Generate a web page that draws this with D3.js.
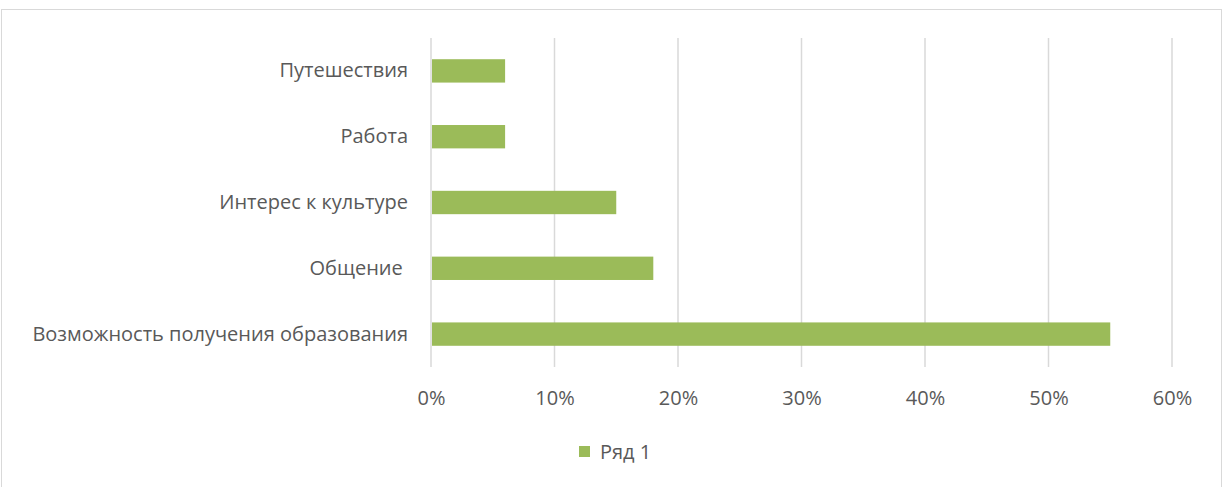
<!DOCTYPE html>
<html>
<head>
<meta charset="utf-8">
<script src="https://cdn.jsdelivr.net/npm/d3@7"></script>
<style>
  html, body { margin: 0; padding: 0; background: #ffffff; }
  svg { display: block; }
  text { font-family: "Open Sans", "Noto Sans", sans-serif; fill: #595959; }
</style>
</head>
<body>
<svg id="chart" width="1225" height="487"></svg>
<script>
// Reasons, top to bottom as shown on the chart
const categories = [
  "Путешествия",
  "Работа",
  "Интерес к культуре",
  "Общение ",
  "Возможность получения образования"
];
const values = [6, 6, 15, 18, 55];           // percent
const tickValues = [0, 10, 20, 30, 40, 50, 60];
const seriesName = "Ряд 1";

const W = 1225, H = 487;
const margin = { top: 38, right: 53, bottom: 120, left: 431 };
const plotW = W - margin.left - margin.right;
const plotH = H - margin.top - margin.bottom;
const FONT = "\"Open Sans\", \"Noto Sans\", sans-serif";
const FS = 20;

const svg = d3.select("#chart");

// outer chart frame
svg.append("rect")
  .attr("x", 1.5).attr("y", 9.5)
  .attr("width", 1220).attr("height", 490)
  .attr("fill", "none").attr("stroke", "#d9d9d9").attr("stroke-width", 1);

const g = svg.append("g").attr("transform", `translate(${margin.left},${margin.top})`);

const x = d3.scaleLinear().domain([0, 60]).range([0, plotW]);
const y = d3.scaleBand().domain(categories).range([0, plotH])
  .paddingInner(0.645).paddingOuter(0.3225);

// vertical gridlines
g.append("g").selectAll("line").data(tickValues).join("line")
  .attr("x1", d => x(d)).attr("x2", d => x(d))
  .attr("y1", 0).attr("y2", plotH)
  .attr("stroke", "#d9d9d9").attr("stroke-width", 1.5);

// bars
g.append("g").selectAll("rect").data(values).join("rect")
  .attr("x", x(0) + 1)
  .attr("y", (d, i) => y(categories[i]))
  .attr("width", d => x(d) - x(0) - 1)
  .attr("height", y.bandwidth())
  .attr("fill", "#9bbb59");

// x axis tick labels
const xAxis = d3.axisBottom(x).tickValues(tickValues).tickSize(0).tickPadding(0)
  .tickFormat(d => d + "%");
g.append("g").attr("transform", `translate(0,${plotH + 24})`).call(xAxis)
  .call(a => a.select(".domain").remove())
  .selectAll("text")
  .attr("font-size", FS).attr("fill", "#595959")
  .style("font-family", FONT);

// category labels
const yAxis = d3.axisLeft(y).tickSize(0).tickPadding(23);
g.append("g").call(yAxis)
  .call(a => a.select(".domain").remove())
  .selectAll("text")
  .attr("font-size", FS).attr("fill", "#595959")
  .style("font-family", FONT)
  .style("white-space", "pre");

// legend
const legend = svg.append("g").attr("transform", "translate(579,446)");
legend.append("rect").attr("width", 11).attr("height", 11).attr("fill", "#9bbb59");
legend.append("text").attr("x", 21).attr("y", 6).attr("dy", "0.35em")
  .attr("font-size", FS).style("font-family", FONT).text(seriesName);
</script>
</body>
</html>
